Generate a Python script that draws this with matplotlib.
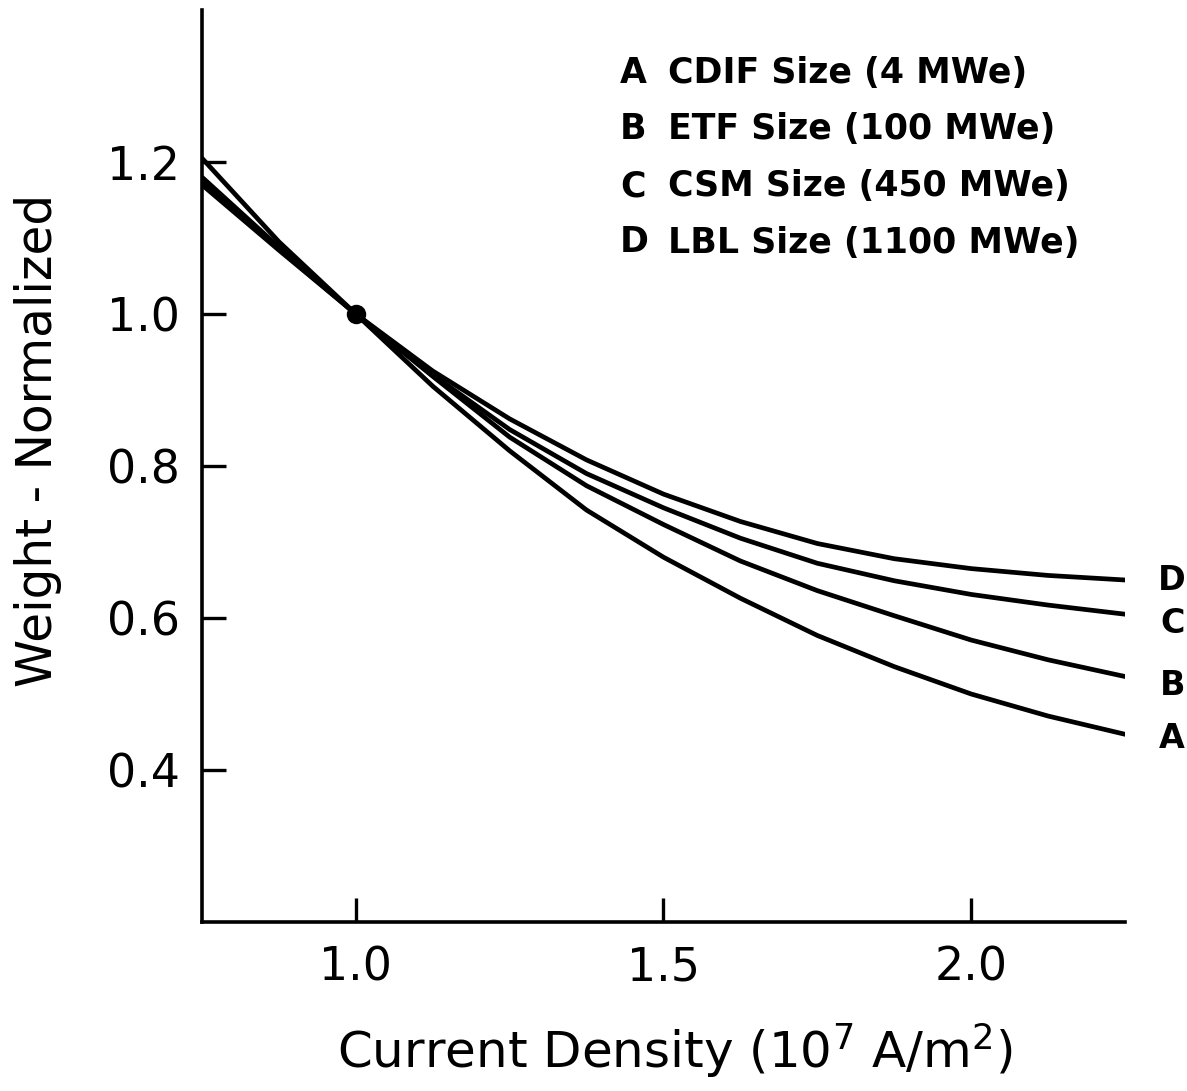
import numpy as np
import matplotlib
matplotlib.use("Agg")
import matplotlib.pyplot as plt

# current density (10^7 A/m^2)
x = [0.75, 0.875, 1.0, 1.125, 1.25, 1.375, 1.5, 1.625, 1.75, 1.875, 2.0, 2.125, 2.25]

# normalized weight, one list per plant size
A = [1.205, 1.095, 1.0, 0.905, 0.82, 0.742, 0.68, 0.626, 0.577, 0.536, 0.500, 0.471, 0.447]
B = [1.18, 1.088, 1.0, 0.918, 0.838, 0.774, 0.723, 0.675, 0.636, 0.603, 0.571, 0.545, 0.523]
C = [1.175, 1.086, 1.0, 0.92, 0.848, 0.79, 0.745, 0.705, 0.672, 0.649, 0.631, 0.617, 0.605]
D = [1.17, 1.084, 1.0, 0.925, 0.862, 0.808, 0.763, 0.727, 0.698, 0.678, 0.665, 0.656, 0.650]

curves = [("A", A), ("B", B), ("C", C), ("D", D)]
legend_names = ["CDIF Size (4 MWe)", "ETF Size (100 MWe)",
                "CSM Size (450 MWe)", "LBL Size (1100 MWe)"]
label_shift = {"A": -3, "B": -6.5, "C": -7, "D": 0}  # points, as placed in the original

xticks = [1.0, 1.5, 2.0]
yticks = [0.4, 0.6, 0.8, 1.0, 1.2]

plt.rcParams['font.family'] = ['DejaVu Sans']

W, H = 1187, 1091
fig = plt.figure(figsize=(W / 100, H / 100), dpi=100)
ax = fig.add_axes([202 / W, 1 - 922 / H, (1125 - 202) / W, (922 - 10) / H])

for name, y in curves:
    ax.plot(x, y, color='black', lw=3.4, solid_capstyle='round', solid_joinstyle='round')
    ax.annotate(name, (x[-1], y[-1]), xytext=(34, label_shift[name]),
                textcoords='offset points', ha='center', va='center',
                fontsize=24, fontweight='bold', annotation_clip=False)

# normalization point
ax.plot([1.0], [1.0], 'o', color='black', markersize=13)

ax.set_xlim(0.75, 2.25)
ax.set_ylim(0.2, 1.4)
ax.set_xticks(xticks)
ax.set_xticklabels(["1.0", "1.5", "2.0"])
ax.set_yticks(yticks)
ax.set_yticklabels(["0.4", "0.6", "0.8", "1.0", "1.2"])

ax.spines['top'].set_visible(False)
ax.spines['right'].set_visible(False)
ax.spines['left'].set_linewidth(2.6)
ax.spines['bottom'].set_linewidth(2.6)
ax.tick_params(direction='in', length=17, width=2.4, labelsize=33)
ax.tick_params(axis='y', pad=16)
ax.tick_params(axis='x', pad=17)

fig.text(38 / W, 1 - 440 / H, "Weight - Normalized", rotation=90,
         ha='center', va='center', fontsize=35)
fig.text(675 / W, 1 - 1050 / H, "Current Density (10$^7$ A/m$^2$)",
         ha='center', va='center', fontsize=36)

# key in the upper right
for i, (name, y) in enumerate(curves):
    ypos = 1 - (73 + i * 56.5) / H
    fig.text(620 / W, ypos, name, ha='left', va='center', fontsize=25, fontweight='bold')
    fig.text(668 / W, ypos, legend_names[i], ha='left', va='center',
             fontsize=25, fontweight='bold')

fig.savefig("out.png", dpi=100)
